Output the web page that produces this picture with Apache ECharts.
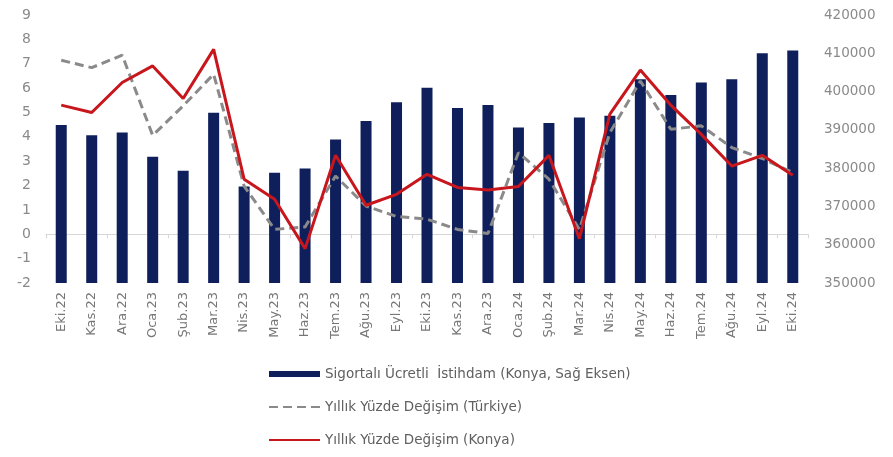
<!DOCTYPE html>
<html>
<head>
<meta charset="utf-8">
<script src="https://cdn.jsdelivr.net/npm/echarts@6/dist/echarts.min.js"></script>
<style>
  html, body { margin: 0; padding: 0; background: #fff; }
  #chart { width: 893px; height: 457px; }
</style>
</head>
<body>
<div id="chart"></div>
<script>
// Monthly categories, Oct 2022 – Oct 2024
const months = [
  'Eki.22', 'Kas.22', 'Ara.22', 'Oca.23', 'Şub.23', 'Mar.23', 'Nis.23', 'May.23', 'Haz.23',
  'Tem.23', 'Ağu.23', 'Eyl.23', 'Eki.23', 'Kas.23', 'Ara.23', 'Oca.24', 'Şub.24', 'Mar.24',
  'Nis.24', 'May.24', 'Haz.24', 'Tem.24', 'Ağu.24', 'Eyl.24', 'Eki.24'
];

// Insured wage employment in Konya (right axis)
const employmentKonya = [
  391300, 388600, 389300, 383000, 379300, 394500, 375200, 378800, 379900,
  387500, 392300, 397200, 401000, 395700, 396500, 390600, 391800, 393200,
  393700, 403200, 399100, 402400, 403200, 410000, 410700
];

// Annual % change, Türkiye (left axis)
const changeTurkiye = [
  7.14, 6.84, 7.35, 4.06, 5.27, 6.57, 1.98, 0.2, 0.3,
  2.39, 1.16, 0.73, 0.62, 0.2, 0.03, 3.35, 2.26, 0.2,
  4.17, 6.29, 4.31, 4.45, 3.56, 3.11, 2.53
];

// Annual % change, Konya (left axis)
const changeKonya = [
  5.3, 5.0, 6.23, 6.91, 5.57, 7.59, 2.26, 1.44, -0.59,
  3.24, 1.19, 1.64, 2.46, 1.92, 1.82, 1.96, 3.24, -0.18,
  4.93, 6.74, 5.3, 4.1, 2.8, 3.24, 2.42
];

const leftTicks = { min: -2, max: 9, step: 1 };
const rightTicks = { min: 350000, max: 420000, step: 10000 };

const seriesNames = [
  'Sigortalı Ücretli  İstihdam (Konya, Sağ Eksen)',
  'Yıllık Yüzde Değişim (Türkiye)',
  'Yıllık Yüzde Değişim (Konya)'
];

const FONT = '"DejaVu Sans", sans-serif';
const AXIS_GREY = '#8a8a8a';

const chart = echarts.init(document.getElementById('chart'), null, { renderer: 'canvas' });

chart.setOption({
  animation: false,
  backgroundColor: '#ffffff',
  textStyle: { fontFamily: FONT },
  grid: { left: 46, right: 85, top: 15, bottom: 174, containLabel: false },
  legend: {
    orient: 'vertical',
    left: 263,
    top: 362,
    itemWidth: 51,
    itemHeight: 6,
    itemGap: 19,
    textStyle: { color: '#606060', fontSize: 13.5, fontFamily: FONT },
    data: [
      { name: seriesNames[0], icon: 'rect' },
      { name: seriesNames[1], itemStyle: { opacity: 0 } },
      { name: seriesNames[2], itemStyle: { opacity: 0 } }
    ]
  },
  xAxis: [
    {
      type: 'category',
      data: months,
      boundaryGap: true,
      axisLine: { show: false },
      axisTick: { show: false },
      axisLabel: {
        rotate: 90,
        interval: 0,
        margin: 9,
        color: '#777777',
        fontSize: 13,
        fontFamily: FONT
      }
    },
    {
      // zero baseline of the percentage axis, with category tick marks
      type: 'category',
      data: months,
      position: 'bottom',
      boundaryGap: true,
      axisLine: { show: true, onZero: true, onZeroAxisIndex: 0, lineStyle: { color: '#d6d6d6', width: 1 } },
      axisTick: { show: true, length: 4, lineStyle: { color: '#d6d6d6' } },
      axisLabel: { show: false }
    }
  ],
  yAxis: [
    {
      type: 'value',
      min: leftTicks.min,
      max: leftTicks.max,
      interval: leftTicks.step,
      splitLine: { show: false },
      axisLine: { show: false },
      axisTick: { show: false },
      axisLabel: { color: AXIS_GREY, fontSize: 14, margin: 15, fontFamily: FONT }
    },
    {
      type: 'value',
      position: 'right',
      min: rightTicks.min,
      max: rightTicks.max,
      interval: rightTicks.step,
      splitLine: { show: false },
      axisLine: { show: false },
      axisTick: { show: false },
      axisLabel: {
        color: AXIS_GREY,
        fontSize: 13.5,
        margin: 16,
        fontFamily: FONT,
        formatter: (v) => String(v)
      }
    }
  ],
  series: [
    {
      name: seriesNames[0],
      type: 'bar',
      xAxisIndex: 0,
      yAxisIndex: 1,
      data: employmentKonya,
      barWidth: 11,
      itemStyle: { color: '#0f1f5c' },
      z: 1
    },
    {
      name: seriesNames[1],
      type: 'line',
      xAxisIndex: 0,
      yAxisIndex: 0,
      data: changeTurkiye,
      symbol: 'none',
      lineStyle: { color: '#8a8a8a', width: 3, type: [9, 5] },
      itemStyle: { color: '#8a8a8a' },
      z: 3
    },
    {
      name: seriesNames[2],
      type: 'line',
      xAxisIndex: 0,
      yAxisIndex: 0,
      data: changeKonya,
      symbol: 'none',
      lineStyle: { color: '#c8161d', width: 3 },
      itemStyle: { color: '#c8161d' },
      z: 4
    }
  ]
});
</script>
</body>
</html>
